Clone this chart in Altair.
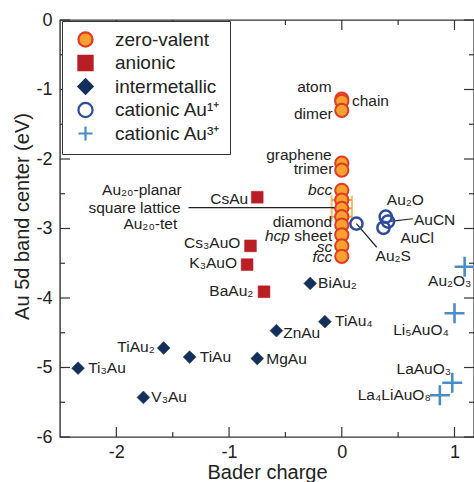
import altair as alt
import pandas as pd

# ---------------- data ----------------
types = ["zero-valent", "anionic", "intermetallic", "cationic Au\u00b9\u207a", "cationic Au\u00b3\u207a"]

zero_names = ["atom", "chain", "dimer", "graphene", "trimer", "bcc", "Au\u2082\u2080-planar",
              "square lattice", "Au\u2082\u2080-tet", "diamond", "hcp sheet", "sc", "fcc"]
zero_x = [0.0, 0.0, 0.0, 0.0, 0.0, 0.0, 0.0, 0.0, 0.0, 0.0, 0.0, 0.0, 0.0]
zero_y = [-1.14, -1.17, -1.30, -2.06, -2.16, -2.45, -2.59, -2.71, -2.83, -2.95, -3.09, -3.25, -3.40]

anion_names = ["CsAu", "Cs\u2083AuO", "K\u2083AuO", "BaAu\u2082"]
anion_x = [-0.75, -0.81, -0.84, -0.69]
anion_y = [-2.55, -3.25, -3.52, -3.91]

inter_names = ["Ti\u2083Au", "V\u2083Au", "TiAu\u2082", "TiAu", "MgAu", "ZnAu", "TiAu\u2084", "BiAu\u2082"]
inter_x = [-2.34, -1.76, -1.58, -1.35, -0.75, -0.58, -0.15, -0.28]
inter_y = [-5.01, -5.43, -4.72, -4.85, -4.87, -4.47, -4.34, -3.79]

cat1_names = ["Au\u2082S", "Au\u2082O", "AuCN", "AuCl"]
cat1_x = [0.13, 0.39, 0.41, 0.37]
cat1_y = [-2.93, -2.83, -2.90, -2.99]

cat3_names = ["Au\u2082O\u2083", "Li\u2085AuO\u2084", "LaAuO\u2083", "La\u2084LiAuO\u2088"]
cat3_x = [1.09, 1.00, 0.98, 0.87]
cat3_y = [-3.55, -4.22, -5.22, -5.40]

# annotation labels (data coordinates)
lab_r_text = ["atom", "dimer", "graphene", "trimer", "diamond", "sheet",
              "Au\u2082\u2080-planar", "square lattice", "Au\u2082\u2080-tet",
              "CsAu", "Cs\u2083AuO", "K\u2083AuO", "BaAu\u2082", "TiAu\u2082",
              "Au\u2082O\u2083", "Li\u2085AuO\u2084", "LaAuO\u2083", "La\u2084LiAuO\u2088"]
lab_r_x = [-0.09, -0.08, -0.09, -0.075, -0.085, -0.085,
           -1.42, -1.43, -1.46,
           -0.83, -0.90, -0.93, -0.785, -1.66,
           1.15, 0.95, 0.97, 0.79]
lab_r_y = [-0.96, -1.35, -1.94, -2.15, -2.90, -3.11,
           -2.44, -2.70, -2.93,
           -2.57, -3.21, -3.49, -3.90, -4.70,
           -3.76, -4.46, -5.02, -5.40]

lab_i_text = ["bcc", "hcp", "sc", "fcc"]
lab_i_x = [-0.085, -0.46, -0.085, -0.085]
lab_i_y = [-2.45, -3.11, -3.26, -3.41]

lab_l_text = ["chain", "Ti\u2083Au", "V\u2083Au", "TiAu", "MgAu", "ZnAu", "TiAu\u2084", "BiAu\u2082",
              "Au\u2082O", "AuCN", "AuCl", "Au\u2082S"]
lab_l_x = [0.09, -2.25, -1.69, -1.26, -0.67, -0.52, -0.06, -0.21, 0.40, 0.64, 0.52, 0.30]
lab_l_y = [-1.16, -5.01, -5.43, -4.85, -4.88, -4.51, -4.33, -3.79, -2.59, -2.88, -3.14, -3.40]

# leader lines
lead_x = [-1.36, 0.41, 0.13]
lead_x2 = [0.0, 0.63, 0.31]
lead_y = [-2.70, -2.90, -2.93]
lead_y2 = [-2.70, -2.86, -3.27]

# Au20 spread bars
bar_y = [-2.59, -2.71, -2.83]
bar_lo = [-0.09, -0.09, -0.09]
bar_hi = [0.09, 0.09, 0.09]

# axis ticks
x_major = [-2, -1, 0, 1]
x_minor = [-1.5, -0.5, 0.5]
y_major = [-6, -5, -4, -3, -2, -1, 0]
y_minor = [-5.5, -4.5, -3.5, -2.5, -1.5, -0.5]

# ---------------- build ----------------
W, H = 414, 417
FONT = "Liberation Sans"
XD = [-2.5, 1.173]
YD = [-6, 0]

rows = []
for t, names, xs_, ys_ in [(types[0], zero_names, zero_x, zero_y),
                           (types[1], anion_names, anion_x, anion_y),
                           (types[2], inter_names, inter_x, inter_y),
                           (types[3], cat1_names, cat1_x, cat1_y),
                           (types[4], cat3_names, cat3_x, cat3_y)]:
    for n, x, y in zip(names, xs_, ys_):
        rows.append({"type": t, "name": n, "x": x, "y": y})
pts = pd.DataFrame(rows)

xs = alt.Scale(domain=XD, nice=False, zero=False)
ys = alt.Scale(domain=YD, nice=False, zero=False)

PLUS = "M-1,0H1M0,-1V1"
leg = alt.Legend(title=None, orient="none", legendX=2, legendY=1,
                 strokeColor="#333333", fillColor="white", padding=9,
                 labelFont=FONT, labelFontSize=19, labelColor="#222222",
                 labelOffset=20, rowPadding=0.5, symbolOffset=5,
                 symbolSize=200, symbolStrokeWidth=2.2)

x_axis = alt.Axis(values=x_major, labelExpr="'' + datum.value", ticks=False, domain=False, grid=False,
                  labelFont=FONT, labelFontSize=18, labelColor="#222222", labelPadding=6,
                  title="Bader charge", titleFont=FONT, titleFontSize=20, titleFontWeight="normal",
                  titleColor="#222222", titleBaseline="alphabetic", titleY=41)
y_axis = alt.Axis(values=y_major, labelExpr="'' + datum.value", ticks=False, domain=False, grid=False,
                  labelFont=FONT, labelFontSize=18, labelColor="#222222", labelPadding=8,
                  title="Au 5d band center (eV)", titleFont=FONT, titleFontSize=20,
                  titleFontWeight="normal", titleColor="#222222", titlePadding=3, titleY=196)

size_enc = {"condition": [
    {"test": "datum.type === 'anionic'", "value": 140},
    {"test": "datum.type === 'intermetallic'", "value": 165},
    {"test": "datum.type === '" + types[3] + "'", "value": 150},
    {"test": "datum.type === '" + types[4] + "'", "value": 400},
], "value": 175}
sw_enc = {"condition": [
    {"test": "datum.type === 'anionic'", "value": 0.5},
    {"test": "datum.type === 'intermetallic'", "value": 0.5},
    {"test": "datum.type === '" + types[3] + "'", "value": 2.5},
    {"test": "datum.type === '" + types[4] + "'", "value": 2.6},
], "value": 2}

points = alt.Chart(pts).mark_point(filled=False, opacity=1).encode(
    x=alt.X("x:Q", scale=xs, axis=x_axis),
    y=alt.Y("y:Q", scale=ys, axis=y_axis),
    shape=alt.Shape("type:N", scale=alt.Scale(domain=types,
                    range=["circle", "square", "diamond", "circle", PLUS]), legend=leg),
    fill=alt.Fill("type:N", scale=alt.Scale(domain=types,
                  range=["#F7A22F", "#B81E24", "#14305A", "transparent", "transparent"]), legend=leg),
    stroke=alt.Stroke("type:N", scale=alt.Scale(domain=types,
                      range=["#E23A25", "#B81E24", "#14305A", "#2D4CA0", "#4A8CC6"]), legend=leg),
    size=size_enc,
    strokeWidth=sw_enc,
)

bars_df = pd.DataFrame({"y": bar_y, "lo": bar_lo, "hi": bar_hi})
bars = alt.Chart(bars_df).mark_rule(color="#F5A33A", strokeWidth=2).encode(
    x=alt.X("lo:Q", scale=xs), x2="hi:Q", y=alt.Y("y:Q", scale=ys))
caps_df = pd.DataFrame({"x": bar_lo + bar_hi, "y": bar_y + bar_y})
caps = alt.Chart(caps_df).mark_tick(color="#F5A33A", orient="vertical", size=9, thickness=2).encode(
    x=alt.X("x:Q", scale=xs), y=alt.Y("y:Q", scale=ys))

lead_df = pd.DataFrame({"x": lead_x, "x2": lead_x2, "y": lead_y, "y2": lead_y2})
leads = alt.Chart(lead_df).mark_rule(color="#222222", strokeWidth=1.2).encode(
    x=alt.X("x:Q", scale=xs), x2="x2:Q", y=alt.Y("y:Q", scale=ys), y2="y2:Q")

def text_layer(txt, xv, yv, align, style="normal"):
    df = pd.DataFrame({"t": txt, "x": xv, "y": yv})
    return alt.Chart(df).mark_text(align=align, baseline="middle", font=FONT, fontSize=15.5,
                                   fontStyle=style, color="#222222").encode(
        x=alt.X("x:Q", scale=xs), y=alt.Y("y:Q", scale=ys), text="t:N")

lab_r = text_layer(lab_r_text, lab_r_x, lab_r_y, "right")
lab_i = text_layer(lab_i_text, lab_i_x, lab_i_y, "right", "italic")
lab_l = text_layer(lab_l_text, lab_l_x, lab_l_y, "left")

TC = "#333333"
def xticks(vals, L):
    df = pd.DataFrame({"v": vals})
    b = alt.Chart(df).mark_rule(color=TC, strokeWidth=1.2).encode(
        x=alt.X("v:Q", scale=xs), y=alt.value(H), y2=alt.value(H - L))
    t = alt.Chart(df).mark_rule(color=TC, strokeWidth=1.2).encode(
        x=alt.X("v:Q", scale=xs), y=alt.value(0), y2=alt.value(L))
    return b + t

def yticks(vals, L):
    df = pd.DataFrame({"v": vals})
    l = alt.Chart(df).mark_rule(color=TC, strokeWidth=1.2).encode(
        y=alt.Y("v:Q", scale=ys), x=alt.value(0), x2=alt.value(L))
    r = alt.Chart(df).mark_rule(color=TC, strokeWidth=1.2).encode(
        y=alt.Y("v:Q", scale=ys), x=alt.value(W), x2=alt.value(W - L))
    return l + r

chart = alt.layer(
    bars, caps, leads, points, lab_r, lab_i, lab_l,
    xticks(x_major, 10), xticks(x_minor, 5), yticks(y_major, 10), yticks(y_minor, 5),
).properties(
    width=W, height=H,
    padding={"left": 60, "top": 20, "right": 0, "bottom": 45},
    autosize=alt.AutoSizeParams(type="none"),
    background="white",
).configure_view(stroke="#333333", strokeWidth=1.4)

chart.save("out.html", embed_options={"renderer": "svg", "actions": False})
